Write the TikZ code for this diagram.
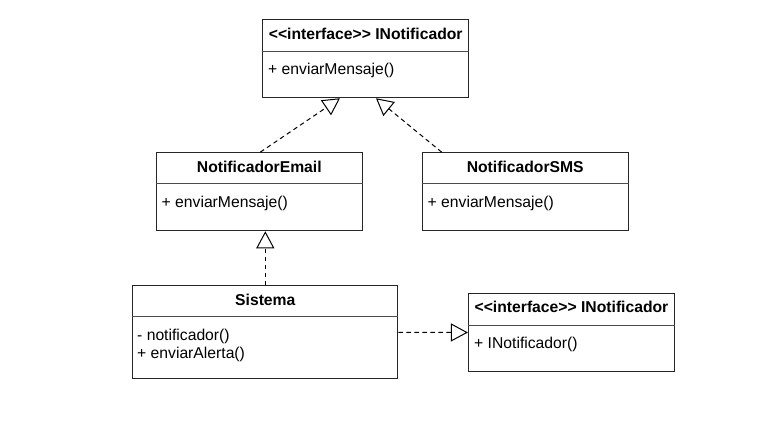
\documentclass[tikz,border=0pt]{standalone}
\usepackage{fontspec}
\newfontfamily\umlfont{Liberation Sans}
\usetikzlibrary{arrows.meta}

\tikzset{
    classbox/.style={draw=black!85,line width=1.1pt,fill=white,inner sep=0pt},
    classname/.style={font=\umlfont\fontsize{15.7}{18.7}\selectfont\bfseries,inner sep=0pt,anchor=base},
    member/.style={font=\umlfont\fontsize{15.7}{18.7}\selectfont,inner sep=0pt,anchor=base west},
    divider/.style={draw=black!70,line width=1pt},
    realize/.style={dash pattern=on 4.5pt off 3.5pt,line width=1pt,-{Triangle[open,length=17pt,width=18pt]}}
}

\begin{document}
\begin{tikzpicture}[x=1pt,y=-1pt]
    \useasboundingbox (0,0) rectangle (778,431);

    % class boxes
    \node[classbox,minimum width=206pt,minimum height=78pt] (iface) at (365.7,58.7) {};
    \node[classbox,minimum width=206pt,minimum height=78pt] (email) at (259.3,191.7) {};
    \node[classbox,minimum width=206pt,minimum height=78pt] (sms) at (525.2,191.7) {};
    \node[classbox,minimum width=265pt,minimum height=93pt] (sistema) at (265.3,332.3) {};
    \node[classbox,minimum width=206pt,minimum height=78pt] (ifaceB) at (571.5,332.5) {};

    % header lines
    \draw[divider] ([yshift=-32pt]iface.north west) -- ([yshift=-32pt]iface.north east);
    \draw[divider] ([yshift=-31.6pt]email.north west) -- ([yshift=-31.6pt]email.north east);
    \draw[divider] ([yshift=-31.6pt]sms.north west) -- ([yshift=-31.6pt]sms.north east);
    \draw[divider] ([yshift=-31.6pt]sistema.north west) -- ([yshift=-31.6pt]sistema.north east);
    \draw[divider] ([yshift=-32.4pt]ifaceB.north west) -- ([yshift=-32.4pt]ifaceB.north east);

    % names and members
    \node[classname] (ifaceName) at (365.7,39.5) {<<interface>> INotificador};
    \node[member] (ifaceOps) at (268,74.5) {+ enviarMensaje()};
    \node[classname] (emailName) at (259.3,172.5) {NotificadorEmail};
    \node[member] (emailOps) at (161.5,207) {+ enviarMensaje()};
    \node[classname] (smsName) at (525.2,172.5) {NotificadorSMS};
    \node[member] (smsOps) at (427.5,207) {+ enviarMensaje()};
    \node[classname] (sistemaName) at (265.3,305) {Sistema};
    \node[member] (sistemaAttr) at (137,340) {- notificador()};
    \node[member] (sistemaOps) at (137,358.7) {+ enviarAlerta()};
    \node[classname] (ifaceBName) at (571.5,312.8) {<<interface>> INotificador};
    \node[member] (ifaceBOps) at (474,348) {+ INotificador()};

    % realizations
    \draw[realize] ([xshift=1pt]email.north) -- ([xshift=-25.7pt]iface.south);
    \draw[realize] ([xshift=20pt]sms.north west) -- ([xshift=10.3pt]iface.south);
    \draw[realize] (sistema.north) -- (sistema.north |- email.south);
    \draw[realize] (sistema.east) -- (ifaceB.west);
\end{tikzpicture}
\end{document}
